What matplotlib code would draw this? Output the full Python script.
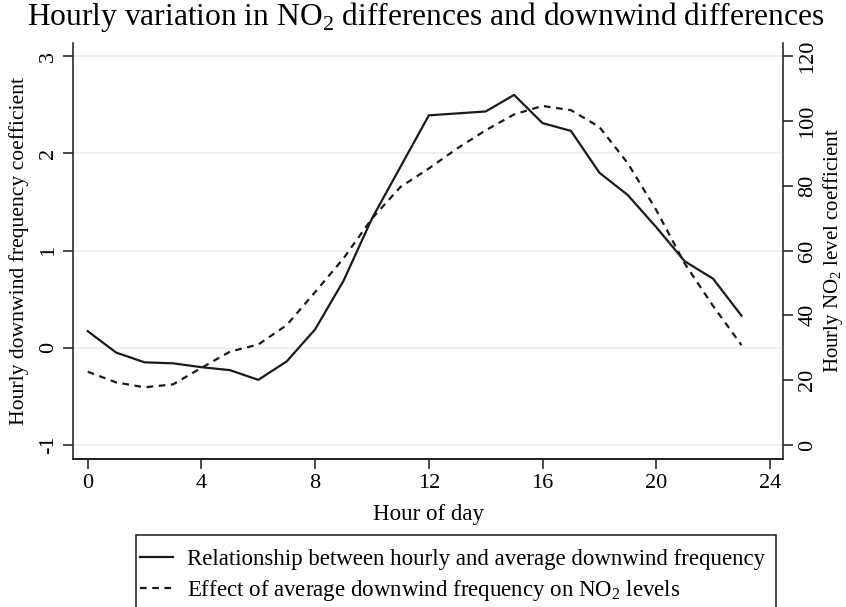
import numpy as np
import matplotlib
matplotlib.use("Agg")
import matplotlib.pyplot as plt
from matplotlib.patches import Rectangle

plt.rcParams['font.family'] = ['Liberation Serif', 'DejaVu Serif']
plt.rcParams['mathtext.fontset'] = 'custom'
plt.rcParams['mathtext.rm'] = 'Liberation Serif'
plt.rcParams['axes.unicode_minus'] = False

hours = list(range(24))
# left axis: hourly vs average downwind frequency
downwind = [0.17, -0.05, -0.15, -0.16, -0.20, -0.23, -0.33, -0.14, 0.19, 0.69,
            1.33, 1.86, 2.39, 2.41, 2.43, 2.60, 2.31, 2.23, 1.80, 1.57,
            1.24, 0.89, 0.71, 0.33]
# right axis: effect on NO2 levels
no2 = [22.6, 19.3, 17.8, 18.7, 23.8, 28.8, 31.0, 37.0, 47.2, 57.6,
       69.9, 79.6, 85.3, 91.5, 97.1, 102.0, 104.6, 103.3, 98.1, 86.9,
       72.5, 56.0, 42.9, 30.8]

fig = plt.figure(figsize=(8.46, 6.07), dpi=100)
ax = fig.add_axes([73/846, 1-459/607, (783-73)/846, (459-43)/607])
ax2 = ax.twinx()

l1, = ax.plot(hours, downwind, color='#1a1a1a', lw=1.6, zorder=3)
l2, = ax2.plot(hours, no2, color='#1a1a1a', lw=1.6, ls=(0, (3, 2.5)))

ax.set_xlim(-0.52, 24.46)
ax.set_ylim(-1.144, 3.134)
ax2.set_ylim(30*(-1.144+1), 30*(3.134+1))
ax.set_xticks([0, 4, 8, 12, 16, 20, 24])
ax.set_yticks([-1, 0, 1, 2, 3])
ax2.set_yticks([0, 20, 40, 60, 80, 100, 120])
ax.yaxis.grid(True, color='#eeeeee', lw=1.2)
ax.set_axisbelow(True)

for a in (ax, ax2):
    a.spines['top'].set_visible(False)
    for s in a.spines.values():
        s.set_linewidth(1.1)
        s.set_color('#1a1a1a')
    a.tick_params(labelsize=16, length=7, width=1.1, color='#1a1a1a', pad=4)
ax2.spines['left'].set_visible(False)
ax.spines['right'].set_visible(False)
ax.tick_params(axis='y', labelrotation=90)
ax2.tick_params(axis='y', labelrotation=90)
for t in ax.get_yticklabels() + ax2.get_yticklabels():
    t.set_va('center')

ax.set_xlabel('Hour of day', fontsize=16.5, labelpad=8)
ax.set_ylabel('Hourly downwind frequency coefficient', fontsize=15.6, labelpad=7)
ax2.set_ylabel('Hourly NO$_2$ level coefficient', fontsize=15, labelpad=3)

fig.suptitle('Hourly variation in NO$_2$ differences and downwind differences',
             fontsize=22.7, x=0.503, y=1.0, va='top')

# legend box (runs past the bottom edge, as in the original)
fig.add_artist(Rectangle((136/846, -0.05), (776-136)/846, 0.05+1-535/607,
                         transform=fig.transFigure, fill=False,
                         edgecolor='#1a1a1a', lw=1.1))
fig.legend([l1, l2],
           ['Relationship between hourly and average downwind frequency',
            'Effect of average downwind frequency on NO$_2$ levels'],
           loc='upper left', bbox_to_anchor=(140/846, 1-549/607),
           borderaxespad=0, borderpad=0,
           fontsize=16.5, frameon=False, handlelength=1.45, handletextpad=0.6,
           labelspacing=0.35)

fig.savefig('out.png', dpi=100)
